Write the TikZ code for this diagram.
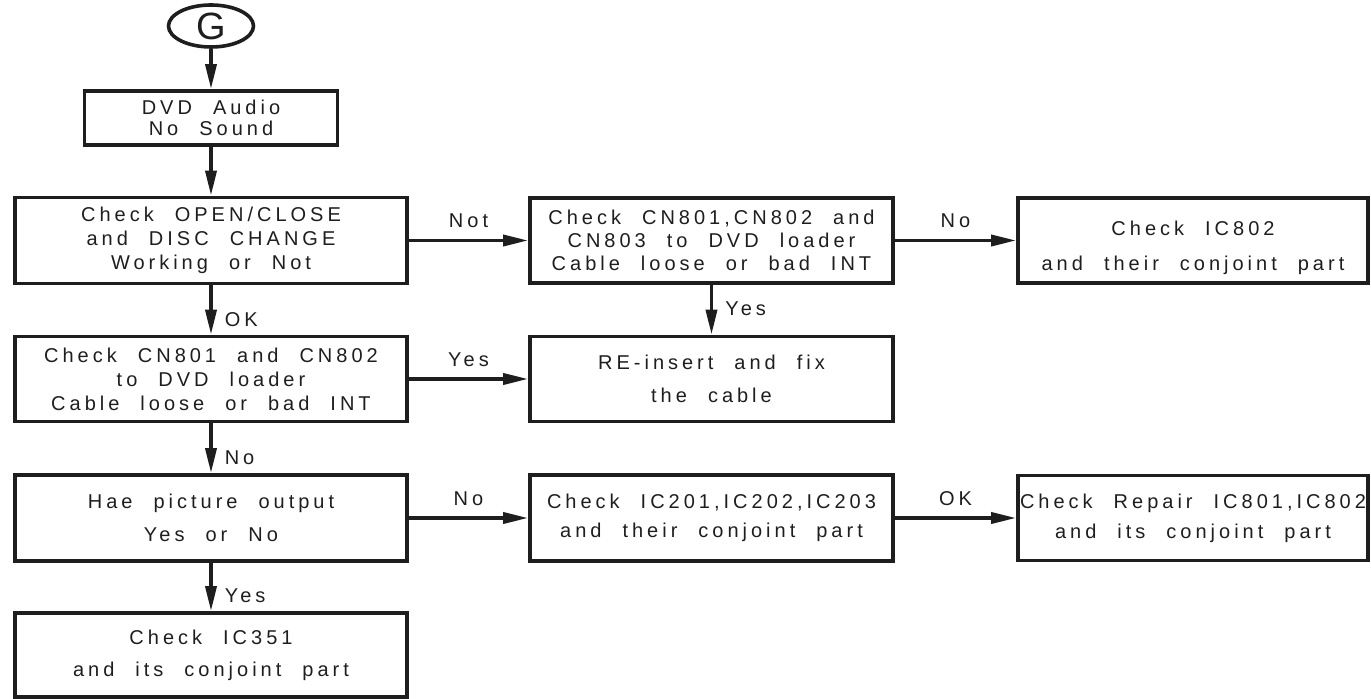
\documentclass[tikz,border=0pt]{standalone}
\usepackage{fontspec}
\setmainfont{Liberation Sans}[LetterSpace=20, WordSpace=2.2]
\newfontfamily\plainfont{Liberation Sans}
\usetikzlibrary{arrows.meta,shapes.geometric}
\definecolor{ink}{HTML}{1E1E1E}
\newcommand{\boxfont}{\fontsize{10}{12}\selectfont}
\newcommand{\loosefont}{\fontsize{10}{16.5}\selectfont}
\newcommand{\lowered}[1]{\raisebox{-3.5pt}[\height][\depth]{#1}}

\begin{document}
\begin{tikzpicture}[x=0.5pt, y=-0.5pt,
  box/.style={draw=ink, line width=1.8pt, align=center, inner sep=0pt,
    text=ink, font=\boxfont, minimum height=42.5pt},
  leftbox/.style={box, minimum width=196pt},
  midbox/.style={box, minimum width=181.5pt},
  rightbox/.style={box, minimum width=175pt},
  flow/.style={draw=ink, line width=1.8pt, -{Triangle[length=12.5pt, width=5.5pt]}},
  lbl/.style={text=ink, font=\boxfont, inner sep=2pt}]
  \useasboundingbox (0,0) rectangle (1371,699);

  % start and first row
  \node[ellipse, draw=ink, line width=1.8pt, minimum width=42.5pt, minimum height=21pt,
    inner sep=0pt, text=ink, font=\plainfont\fontsize{19}{19}\selectfont]
    (g) at (211,26) {G};
  \node[box, minimum width=126.5pt, minimum height=27pt, font=\fontsize{10}{10.5}\selectfont]
    (dvd) at (211,118) {DVD Audio\\No Sound};

  \node[leftbox, minimum height=43pt] (openclose) at (211,240.5)
    {Check OPEN/CLOSE\\and DISC CHANGE\\Working or Not};
  \node[midbox, font=\fontsize{10}{11.5}\selectfont] (cnthree) at (711.5,240.5)
    {Check CN801,CN802 and\\CN803 to DVD loader\\Cable loose or bad INT};
  \node[rightbox, font=\fontsize{10}{17.5}\selectfont] (icloader) at (1193,240.5)
    {\lowered{Check IC802}\\\lowered{and their conjoint part}};

  % second row
  \node[leftbox] (cntwo) at (211,379)
    {Check CN801 and CN802\\to DVD loader\\Cable loose or bad INT};
  \node[midbox, font=\loosefont] (reinsert) at (711.5,379)
    {RE-insert and fix\\the cable};

  % third and last row
  \node[leftbox, minimum height=43pt, font=\loosefont] (picture) at (211,518)
    {Hae picture output\\Yes or No};
  \node[midbox, minimum height=43pt, font=\fontsize{10}{14.5}\selectfont] (icdecode) at (711.5,518)
    {Check IC201,IC202,IC203\\and their conjoint part};
  \node[rightbox, font=\fontsize{10}{15}\selectfont] (repair) at (1193,518)
    {Check Repair IC801,IC802\\and its conjoint part};
  \node[leftbox, minimum height=42pt, font=\fontsize{10}{16}\selectfont] (icaudio) at (211,655)
    {Check IC351\\and its conjoint part};

  \draw[flow] (g) -- (dvd);
  \draw[flow] (dvd) -- (openclose);
  \draw[flow] (openclose) -- node[lbl, above, yshift=3.5pt] {Not} (cnthree);
  \draw[flow] (cnthree) -- node[lbl, above, yshift=3.5pt] {No} (icloader);
  \draw[flow] (cnthree) -- node[lbl, right, pos=0.47, xshift=4pt] {Yes} (reinsert);
  \draw[flow] (openclose) -- node[lbl, right, pos=0.69, xshift=4pt] {OK} (cntwo);
  \draw[flow] (cntwo) -- node[lbl, above, yshift=3.5pt] {Yes} (reinsert);
  \draw[flow] (cntwo) -- node[lbl, right, pos=0.68, xshift=4pt] {No} (picture);
  \draw[flow] (picture) -- node[lbl, above, yshift=3.5pt] {No} (icdecode);
  \draw[flow] (icdecode) -- node[lbl, above, yshift=3.5pt] {OK} (repair);
  \draw[flow] (picture) -- node[lbl, right, pos=0.69, xshift=4pt] {Yes} (icaudio);
\end{tikzpicture}
\end{document}
